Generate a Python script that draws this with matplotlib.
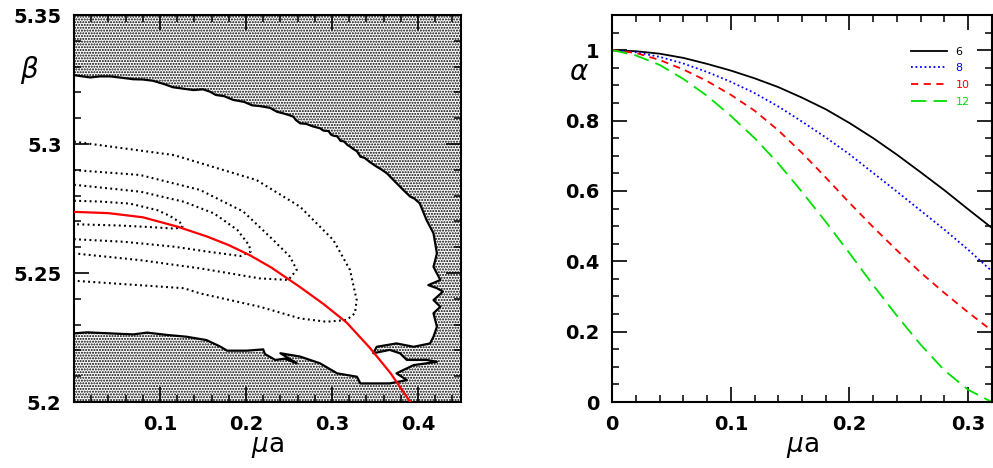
import numpy as np
import matplotlib
matplotlib.use("Agg")
import matplotlib.pyplot as plt
from matplotlib.patches import Rectangle
from matplotlib.ticker import MultipleLocator, FixedLocator

plt.rcParams['font.family'] = ['DejaVu Sans']
plt.rcParams['mathtext.fontset'] = 'custom'
plt.rcParams['mathtext.rm'] = 'DejaVu Sans'
plt.rcParams['mathtext.it'] = 'DejaVu Sans:italic'
plt.rcParams['hatch.linewidth'] = 1.0

# ---- left panel: boundary of the allowed (white) region, beta vs mu a
bound_mu = [0.000, 0.010, 0.019, 0.030, 0.042, 0.055, 0.069, 0.080, 0.092, 0.105,
            0.115, 0.128, 0.139, 0.150, 0.158, 0.165, 0.175, 0.185, 0.198, 0.207,
            0.216, 0.228, 0.236, 0.243, 0.250, 0.255, 0.258, 0.263, 0.270, 0.278,
            0.286, 0.290, 0.296, 0.299, 0.302, 0.306, 0.310, 0.314, 0.318, 0.321,
            0.325, 0.329, 0.333, 0.338, 0.344, 0.352, 0.358, 0.364, 0.371, 0.379,
            0.385, 0.391, 0.396, 0.402, 0.410, 0.418, 0.422, 0.418, 0.426, 0.412,
            0.422, 0.429, 0.418, 0.426, 0.418, 0.422, 0.418, 0.414, 0.395, 0.375,
            0.352, 0.348, 0.367, 0.379, 0.387, 0.410, 0.422, 0.410, 0.395, 0.383,
            0.375, 0.387, 0.367, 0.333, 0.329, 0.306, 0.286, 0.263, 0.240, 0.259,
            0.245, 0.234, 0.222, 0.220, 0.201, 0.178, 0.170, 0.154, 0.131, 0.108,
            0.085, 0.069, 0.042, 0.015, 0.000]
bound_beta = [5.3267, 5.3262, 5.3258, 5.3262, 5.3262, 5.3257, 5.3251, 5.3250, 5.3245, 5.3232,
              5.3220, 5.3214, 5.3209, 5.3212, 5.3203, 5.3190, 5.3185, 5.3171, 5.3163, 5.3150,
              5.3147, 5.3140, 5.3125, 5.3119, 5.3112, 5.3106, 5.3093, 5.3080, 5.3078, 5.3068,
              5.3061, 5.3052, 5.3050, 5.3036, 5.3032, 5.3030, 5.3012, 5.3010, 5.2996, 5.2990,
              5.2980, 5.2972, 5.2951, 5.2946, 5.2930, 5.2912, 5.2900, 5.2886, 5.2862, 5.2835,
              5.2815, 5.2796, 5.2788, 5.2770, 5.2705, 5.2654, 5.2576, 5.2524, 5.2473, 5.2453,
              5.2441, 5.2428, 5.2395, 5.2369, 5.2344, 5.2292, 5.2253, 5.2227, 5.2214, 5.2227,
              5.2214, 5.2189, 5.2202, 5.2189, 5.2163, 5.2163, 5.2156, 5.2150, 5.2143, 5.2124,
              5.2111, 5.2085, 5.2072, 5.2072, 5.2098, 5.2111, 5.2150, 5.2176, 5.2189, 5.2150,
              5.2168, 5.2163, 5.2186, 5.2204, 5.2199, 5.2199, 5.2215, 5.2240, 5.2253, 5.2260,
              5.2269, 5.2262, 5.2266, 5.2270, 5.2266]

# dotted contours (4 nested levels)
c1_mu = [0.000, 0.030, 0.065, 0.0965, 0.1116, 0.1233, 0.1262, 0.1174, 0.0884, 0.0535, 0.000]
c1_beta = [5.2780, 5.2777, 5.2769, 5.2744, 5.2721, 5.2696, 5.2680, 5.2672, 5.2678, 5.2684, 5.2689]
c2_mu = [0.000, 0.0776, 0.1279, 0.1628, 0.1899, 0.2035, 0.2055, 0.1938, 0.155, 0.1163, 0.0581, 0.000]
c2_beta = [5.2842, 5.2815, 5.2776, 5.2731, 5.2667, 5.2608, 5.2583, 5.2566, 5.2583, 5.2602, 5.2621, 5.2631]
c3_mu = [0.000, 0.0767, 0.1465, 0.1969, 0.2317, 0.2512, 0.259, 0.2492, 0.2163, 0.1465, 0.0767, 0.000]
c3_beta = [5.2899, 5.2880, 5.2822, 5.2738, 5.2628, 5.2563, 5.2512, 5.2473, 5.2479, 5.2518, 5.2550, 5.2576]
c4_mu = [0.000, 0.1163, 0.2124, 0.2628, 0.3015, 0.3209, 0.3287, 0.3267, 0.3171, 0.2938,
         0.2628, 0.2163, 0.1465, 0.1279, 0.000]
c4_beta = [5.3009, 5.2957, 5.2860, 5.2757, 5.2628, 5.2512, 5.2395, 5.2344, 5.2318, 5.2311,
           5.2324, 5.2369, 5.2421, 5.2441, 5.2470]

# red line
red_mu = [0.000, 0.040, 0.080, 0.120, 0.155, 0.180, 0.205, 0.230, 0.263, 0.290,
          0.317, 0.344, 0.368, 0.391, 0.396]
red_beta = [5.2737, 5.2732, 5.2716, 5.2680, 5.2641, 5.2608, 5.2568, 5.2520, 5.2445, 5.2380,
            5.2308, 5.2210, 5.2112, 5.2000, 5.1975]

# ---- right panel: alpha vs mu a
mu = [0.00, 0.02, 0.04, 0.06, 0.08, 0.10, 0.12, 0.14, 0.16,
      0.18, 0.20, 0.22, 0.24, 0.26, 0.28, 0.30, 0.32]
alpha_6 = [1.000, 0.997, 0.990, 0.978, 0.961, 0.942, 0.920, 0.895, 0.865,
           0.832, 0.793, 0.750, 0.703, 0.653, 0.602, 0.548, 0.495]
alpha_8 = [1.000, 0.994, 0.981, 0.962, 0.938, 0.910, 0.878, 0.840, 0.797,
           0.752, 0.704, 0.651, 0.598, 0.544, 0.490, 0.433, 0.372]
alpha_10 = [1.000, 0.992, 0.972, 0.945, 0.912, 0.873, 0.828, 0.772, 0.708,
            0.638, 0.566, 0.497, 0.431, 0.368, 0.310, 0.255, 0.203]
alpha_12 = [1.000, 0.985, 0.958, 0.918, 0.870, 0.813, 0.750, 0.678, 0.597,
            0.512, 0.423, 0.332, 0.245, 0.163, 0.090, 0.035, 0.000]
labels = ['6', '8', '10', '12']

fig = plt.figure(figsize=(9.93, 4.68), dpi=100)
ax1 = fig.add_axes([74 / 993, 66 / 468, 387 / 993, 387 / 468])
ax2 = fig.add_axes([612.3 / 993, 66 / 468, 379.5 / 993, 387 / 468])


def style_axes(ax):
    for s in ax.spines.values():
        s.set_linewidth(1.5)
    ax.tick_params(which='both', direction='in', top=True, right=True,
                   labelsize=14, pad=9)
    ax.tick_params(which='major', length=10.5, width=1.2)
    ax.tick_params(which='minor', length=5, width=1.1)
    for lab in ax.get_xticklabels() + ax.get_yticklabels():
        lab.set_fontweight('bold')


# left panel
ax1.add_patch(Rectangle((0, 0), 1, 1, transform=ax1.transAxes, facecolor='white',
                        edgecolor='black', hatch='......', lw=0, zorder=0))
ax1.fill(bound_mu, bound_beta, facecolor='white', edgecolor='none', zorder=1)
ax1.plot(bound_mu, bound_beta, color='black', lw=1.6, zorder=3)
for cx, cy in [(c1_mu, c1_beta), (c2_mu, c2_beta), (c3_mu, c3_beta), (c4_mu, c4_beta)]:
    ax1.plot(cx, cy, color='black', lw=1.5, linestyle=(0, (0.9, 1.6)), zorder=2)
ax1.plot(red_mu, red_beta, color='red', lw=1.6, zorder=4)
ax1.set_xlim(0, 0.45)
ax1.set_ylim(5.2, 5.35)
ax1.xaxis.set_major_locator(FixedLocator([0.1, 0.2, 0.3, 0.4]))
ax1.xaxis.set_minor_locator(MultipleLocator(0.02))
ax1.yaxis.set_major_locator(FixedLocator([5.2, 5.25, 5.3, 5.35]))
ax1.yaxis.set_minor_locator(MultipleLocator(0.01))
ax1.set_xticklabels(['0.1', '0.2', '0.3', '0.4'])
ax1.set_yticklabels(['5.2', '5.25', '5.3', '5.35'])
style_axes(ax1)
ax1.set_xlabel(r'$\mu$a', fontsize=19, labelpad=0)
fig.text(29 / 993, 1 - 70 / 468, 'β', fontsize=20, style='italic', ha='center', va='center')

# right panel
ax2.plot(mu, alpha_6, color='black', lw=1.3, label=labels[0])
ax2.plot(mu, alpha_8, color='#0000ff', lw=1.3, linestyle=(0, (1, 1.5)), label=labels[1])
ax2.plot(mu, alpha_10, color='#ff0000', lw=1.3, linestyle=(0, (4, 3)), label=labels[2])
ax2.plot(mu, alpha_12, color='#00e000', lw=1.3, linestyle=(0, (8.5, 4)), label=labels[3])
ax2.set_xlim(0, 0.32)
ax2.set_ylim(0, 1.1)
ax2.xaxis.set_major_locator(FixedLocator([0, 0.1, 0.2, 0.3]))
ax2.xaxis.set_minor_locator(MultipleLocator(0.02))
ax2.yaxis.set_major_locator(FixedLocator([0, 0.2, 0.4, 0.6, 0.8, 1.0]))
ax2.yaxis.set_minor_locator(MultipleLocator(0.05))
ax2.set_xticklabels(['0', '0.1', '0.2', '0.3'])
ax2.set_yticklabels(['0', '0.2', '0.4', '0.6', '0.8', '1'])
style_axes(ax2)
ax2.set_xlabel(r'$\mu$a', fontsize=19, labelpad=0)
fig.text(578 / 993, 1 - 72 / 468, 'α', fontsize=20, style='italic', ha='center', va='center')
ax2.legend(loc='upper left', bbox_to_anchor=(0.776, 0.93), frameon=False, fontsize=8,
           labelcolor='linecolor', handlelength=3.2, handletextpad=0.8, labelspacing=0.6,
           borderaxespad=0)

fig.savefig('out.png', dpi=100)
